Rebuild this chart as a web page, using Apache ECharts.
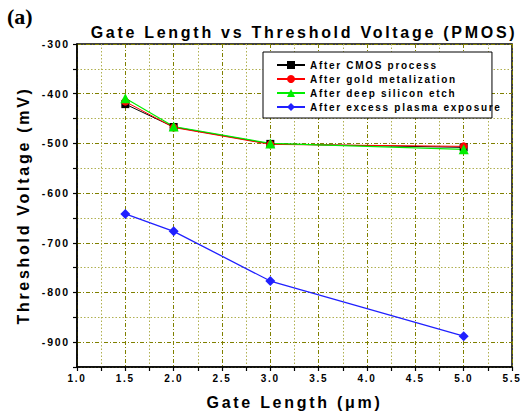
<!DOCTYPE html>
<html>
<head>
<meta charset="utf-8">
<script src="https://cdn.jsdelivr.net/npm/echarts@6/dist/echarts.min.js"></script>
<style>
html,body{margin:0;padding:0;background:#fff;}
#chart{width:522px;height:415px;}
#chart text{letter-spacing:0.17em;}
#chart text[style*="Serif"], #chart text[font-family*="Serif"]{letter-spacing:0;}
</style>
</head>
<body>
<div id="chart"></div>
<script>
// ---- data ----
const gateLengths = [1.5, 2.0, 3.0, 5.0];
const afterCMOS = [-421, -467, -501, -508];
const afterGold = [-416, -468, -502, -506];
const afterDeepEtch = [-409, -466, -500, -512];
const afterPlasma = [-642, -677, -777, -888];
const seriesNames = ['After CMOS process', 'After gold metalization', 'After deep silicon etch', 'After excess plasma exposure'];
// y-axis tick values (labelled hundreds, unlabelled fifties)
const yMajorTicks = [-300, -400, -500, -600, -700, -800, -900];
const yMinorTicks = [-350, -450, -550, -650, -750, -850, -950];

const FONT = '"Liberation Sans", Arial, sans-serif';
const majorGrid = '#808000';
const minorGrid = '#b0b050';
const majorDash = [4, 2, 1, 2];
const minorDash = [1.5, 2];

function pairs(ys) { return gateLengths.map((x, i) => [x, ys[i]]); }

const chart = echarts.init(document.getElementById('chart'), null, {renderer: 'svg'});
const mk = (name, ys, color, symbol, size, lw) => ({
  name, type: 'line', data: pairs(ys), symbol, symbolSize: size,
  lineStyle: {color, width: lw}, itemStyle: {color},
  emphasis: {disabled: true}, animation: false
});
const yBase = {type: 'value', min: -950, max: -300, position: 'left'};

chart.setOption({
  animation: false,
  title: {
    text: 'Gate Length vs Threshold Voltage (PMOS)',
    left: 299, top: 19, textAlign: 'center',
    textStyle: {fontFamily: FONT, fontWeight: 'bold', fontSize: 16, color: '#000'}
  },
  graphic: [{
    type: 'text', left: 7, top: 5,
    style: {text: '(a)', fontFamily: 'Liberation Serif, serif', fontSize: 22, fontWeight: 'bold', fill: '#000'}
  }],
  legend: {
    orient: 'vertical', left: 263, top: 52,
    data: seriesNames,
    itemWidth: 28, itemHeight: 10, itemGap: 4,
    padding: [8, 38, 6, 13],
    backgroundColor: '#fff', borderColor: '#000', borderWidth: 1,
    textStyle: {fontFamily: FONT, fontWeight: 'bold', fontSize: 10, color: '#000'}
  },
  grid: {left: 77, right: 10, top: 44, bottom: 47, show: true, borderColor: '#000', borderWidth: 1.5, backgroundColor: 'transparent'},
  xAxis: {
    type: 'value', min: 1, max: 5.5, interval: 0.5,
    name: 'Gate Length (\u03bcm)', nameLocation: 'middle', nameGap: 27,
    nameTextStyle: {fontFamily: FONT, fontWeight: 'bold', fontSize: 16, color: '#000'},
    axisLine: {lineStyle: {color: '#000', width: 1.5}},
    axisTick: {length: 4, lineStyle: {color: '#000', width: 1.2}},
    minorTick: {show: true, splitNumber: 2, length: 4, lineStyle: {color: '#000', width: 1.2}},
    axisLabel: {
      fontFamily: FONT, fontWeight: 'bold', fontSize: 10, color: '#000', margin: 6,
      formatter: v => v.toFixed(1)
    },
    splitLine: {show: true, lineStyle: {color: majorGrid, type: majorDash, width: 1}},
    minorSplitLine: {show: true, lineStyle: {color: minorGrid, type: minorDash, width: 1}}
  },
  yAxis: [
    Object.assign({}, yBase, {
      name: 'Threshold Voltage (mV)', nameLocation: 'middle', nameGap: 46,
      nameTextStyle: {fontFamily: FONT, fontWeight: 'bold', fontSize: 16, color: '#000'},
      axisLine: {show: true, lineStyle: {color: '#000', width: 1.5}},
      axisTick: {show: true, length: 4, lineStyle: {color: '#000', width: 1.2},
                 customValues: yMajorTicks.concat(yMinorTicks)},
      axisLabel: {fontFamily: FONT, fontWeight: 'bold', fontSize: 10.5, color: '#000', margin: 7,
                  customValues: yMajorTicks},
      splitLine: {show: false}
    }),
    Object.assign({}, yBase, {
      axisLine: {show: false}, axisLabel: {show: false},
      axisTick: {show: false, customValues: yMinorTicks},
      splitLine: {show: true, lineStyle: {color: minorGrid, type: minorDash, width: 1}}
    }),
    Object.assign({}, yBase, {
      axisLine: {show: false}, axisLabel: {show: false},
      axisTick: {show: false, customValues: yMajorTicks},
      splitLine: {show: true, lineStyle: {color: majorGrid, type: majorDash, width: 1}}
    })
  ],
  series: [
    mk(seriesNames[0], afterCMOS, '#000000', 'rect', 8, 1),
    mk(seriesNames[1], afterGold, '#ff0000', 'circle', 8, 1),
    mk(seriesNames[2], afterDeepEtch, '#00ee00', 'triangle', 10, 1.2),
    mk(seriesNames[3], afterPlasma, '#2020ff', 'diamond', 10, 1.3)
  ]
});
</script>
</body>
</html>
